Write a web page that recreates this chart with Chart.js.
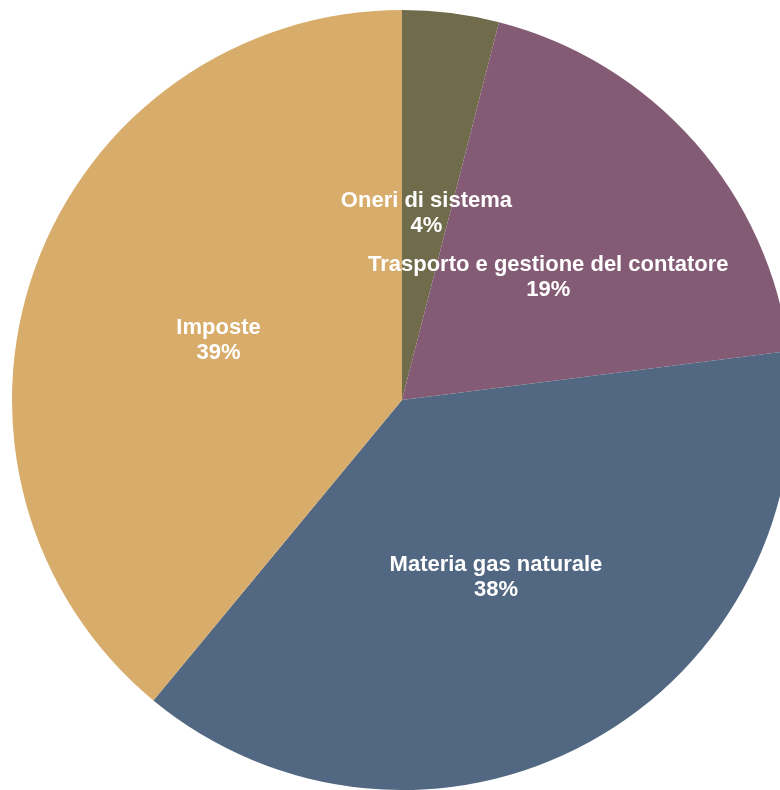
<!DOCTYPE html>
<html>
<head>
<meta charset="utf-8">
<script src="https://cdn.jsdelivr.net/npm/chart.js@4"></script>
<style>
html,body{margin:0;padding:0;background:#fff;overflow:hidden;width:780px;height:790px;}
#wrap{position:absolute;left:0;top:10px;width:804px;height:780px;}
</style>
</head>
<body>
<div id="wrap"><canvas id="c"></canvas></div>
<script>
const categories = ["Oneri di sistema", "Trasporto e gestione del contatore", "Materia gas naturale", "Imposte"];
const values = [4, 19, 38, 39];
const colors = ["#6f6b4b", "#845b74", "#526882", "#d8ac6a"];

const labelPlugin = {
  id: 'sliceLabels',
  afterDatasetsDraw(chart) {
    const ctx = chart.ctx;
    const meta = chart.getDatasetMeta(0);
    ctx.save();
    ctx.fillStyle = '#ffffff';
    ctx.textAlign = 'center';
    ctx.textBaseline = 'middle';
    ctx.font = 'bold 22px "Liberation Sans", Arial, sans-serif';
    meta.data.forEach((arc, i) => {
      const p = arc.tooltipPosition();
      ctx.fillText(categories[i], p.x, p.y - 6);
      ctx.fillText(values[i] + '%', p.x, p.y + 19);
    });
    ctx.restore();
  }
};

new Chart(document.getElementById('c'), {
  type: 'pie',
  data: {
    labels: categories,
    datasets: [{ data: values, backgroundColor: colors, borderWidth: 0 }]
  },
  options: {
    responsive: true,
    maintainAspectRatio: false,
    animation: false,
    layout: { padding: 0 },
    plugins: { legend: { display: false }, tooltip: { enabled: false } }
  },
  plugins: [labelPlugin]
});
</script>
</body>
</html>
